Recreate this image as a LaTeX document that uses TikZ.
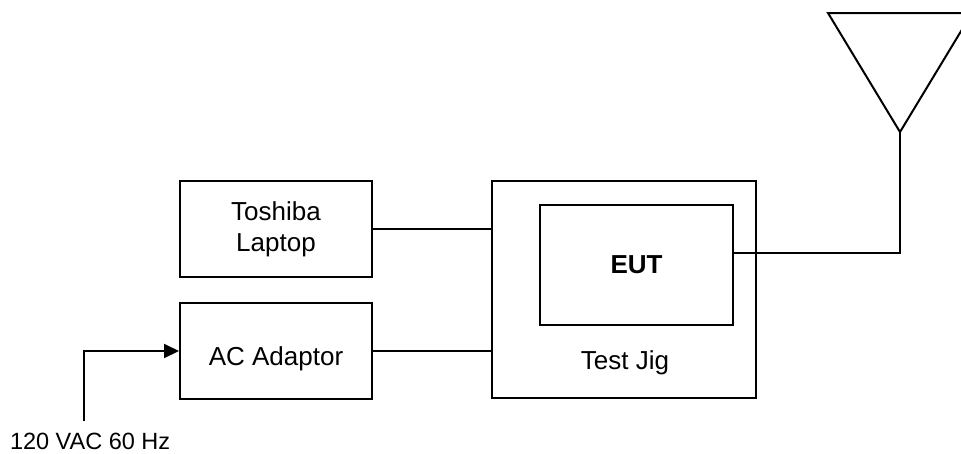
\documentclass[tikz,border=0pt]{standalone}
\usepackage{fontspec}
\setmainfont{Liberation Sans}
\usetikzlibrary{arrows.meta,positioning}

\begin{document}
\begin{tikzpicture}[x=1pt,y=-1pt,line width=2pt,
  every node/.style={font=\fontsize{26}{31}\selectfont,align=center},
  unit/.style={draw,minimum width=192pt,minimum height=96pt,inner sep=0pt}]
\useasboundingbox (0,0) rectangle (961,453);
\clip (0,0) rectangle (961,453);
\node[unit] (laptop) at (276,229) {Toshiba\\Laptop};
\node[unit,below=24pt of laptop] (adaptor) {};
\node at ([yshift=-8pt]adaptor.center) (adaptortxt) {AC Adaptor};
\node[draw,minimum width=264pt,minimum height=217pt] (jig) at (624,289.5) {};
\node[draw,minimum width=193pt,minimum height=120pt,font=\fontsize{26}{31}\selectfont\bfseries] (eut) at (636.5,265) {EUT};
\node (jigtxt) at (625,363) {Test Jig};
% antenna
\coordinate (feed) at (900,132);
\draw (828,13) -- (feed) -- (972,13) -- cycle;
\draw ([yshift=12pt]eut.east) -| (feed);
\draw (laptop.east) -- (laptop.east -| jig.west);
\draw (adaptor.east) -- (adaptor.east -| jig.west);
% mains input
\coordinate (mains) at (84,421);
\draw[-{Triangle[length=15pt,width=14pt]}] (mains) |- (adaptor.west);
\node[anchor=base west,inner sep=0pt,font=\fontsize{23.5}{28}\selectfont] (acin) at (9,449) {120 VAC 60 Hz};
\end{tikzpicture}
\end{document}
